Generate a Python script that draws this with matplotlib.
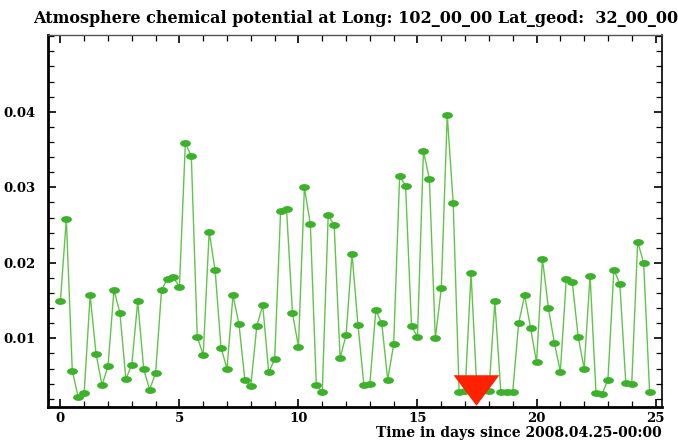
"""Atmosphere chemical potential time series (recreated)."""

import numpy as np
import matplotlib
matplotlib.use("Agg")
import matplotlib.pyplot as plt
from matplotlib.ticker import MultipleLocator
from matplotlib.path import Path
from matplotlib.transforms import Affine2D

# data: one sample every 6 hours starting 2008.04.25-00:00
step_days = 0.25
potential = [
    0.0149, 0.0258, 0.0057, 0.0022, 0.0028, 0.0157, 0.0079, 0.0038, 0.0063, 0.0164,
    0.0134, 0.0046, 0.0065, 0.0149, 0.0059, 0.0032, 0.0054, 0.0164, 0.0179, 0.0181,
    0.0168, 0.0359, 0.0341, 0.0102, 0.0078, 0.0241, 0.0190, 0.0087, 0.0060, 0.0157,
    0.0119, 0.0045, 0.0037, 0.0116, 0.0144, 0.0055, 0.0072, 0.0268, 0.0271, 0.0133,
    0.0089, 0.0300, 0.0251, 0.0038, 0.0029, 0.0263, 0.0250, 0.0074, 0.0104, 0.0212,
    0.0118, 0.0038, 0.0040, 0.0137, 0.0120, 0.0045, 0.0092, 0.0315, 0.0302, 0.0116,
    0.0102, 0.0348, 0.0311, 0.0100, 0.0166, 0.0396, 0.0279, 0.0029, 0.0030, 0.0186,
    0.0030, 0.0032, 0.0030, 0.0149, 0.0029, 0.0029, 0.0029, 0.0120, 0.0157, 0.0114,
    0.0068, 0.0205, 0.0140, 0.0094, 0.0056, 0.0178, 0.0175, 0.0102, 0.0060, 0.0183,
    0.0027, 0.0026, 0.0045, 0.0191, 0.0172, 0.0041, 0.0040, 0.0228, 0.0200, 0.0029,
]
days = np.arange(len(potential)) * step_days

# event marker (red triangle)
event_day = 17.44
event_val = 0.00315

title = "Atmosphere chemical potential at Long: 102_00_00 Lat_geod:  32_00_00"
xlabel = "Time in days since 2008.04.25-00:00"
xticks = [0, 5, 10, 15, 20, 25]
yticks = [0.01, 0.02, 0.03, 0.04]

font = {"family": "DejaVu Serif", "weight": "bold"}

fig = plt.figure(figsize=(6.78, 4.40), dpi=100)
ax = fig.add_axes([48 / 678, 1 - 406.5 / 440, (661.5 - 48) / 678, (406.5 - 35) / 440])

# flattened dots
dot = Path.unit_circle().transformed(Affine2D().scale(1.0, 0.63))

ax.plot(days, potential, color="#62c44a", lw=1.0, zorder=2)
ax.plot(days, potential, ls="none", marker=dot, ms=7.8, color="#3cb22a",
        markeredgewidth=0, zorder=3)

tri = [(-1.5, 1.0), (1.5, 1.0), (0.0, -1.0)]
ax.plot([event_day], [event_val], ls="none", marker=tri, ms=33, color="#ff2200",
        markeredgewidth=0, zorder=4)

ax.set_xlim(-0.52, 25.25)
ax.set_ylim(0.00097, 0.05017)
ax.set_xticks(xticks)
ax.set_yticks(yticks)
ax.set_yticklabels(["%.2f" % v for v in yticks])
ax.xaxis.set_minor_locator(MultipleLocator(1))
ax.yaxis.set_minor_locator(MultipleLocator(0.002))
ax.tick_params(which="both", direction="in", top=True, right=True, colors="black")
ax.tick_params(which="major", length=6, width=1.2)
ax.tick_params(which="minor", length=4, width=0.9)
ax.tick_params(axis="y", which="major", pad=9)
ax.tick_params(axis="x", which="major", pad=4)
for lab in ax.get_xticklabels() + ax.get_yticklabels():
    lab.set_fontfamily(font["family"])
    lab.set_fontweight("bold")
    lab.set_fontsize(9.5)

ax.spines["left"].set_linewidth(2.0)
ax.spines["bottom"].set_linewidth(2.0)
ax.spines["top"].set_linewidth(1.0)
ax.spines["top"].set_color("#555555")
ax.spines["right"].set_linewidth(1.2)

ax.set_xlabel(xlabel, loc="right", labelpad=1, fontsize=10, **font)
fig.text(33 / 678, 1 - 23.3 / 440, title, ha="left", va="baseline", fontsize=11.5, **font)

fig.savefig("out.png", dpi=100)
